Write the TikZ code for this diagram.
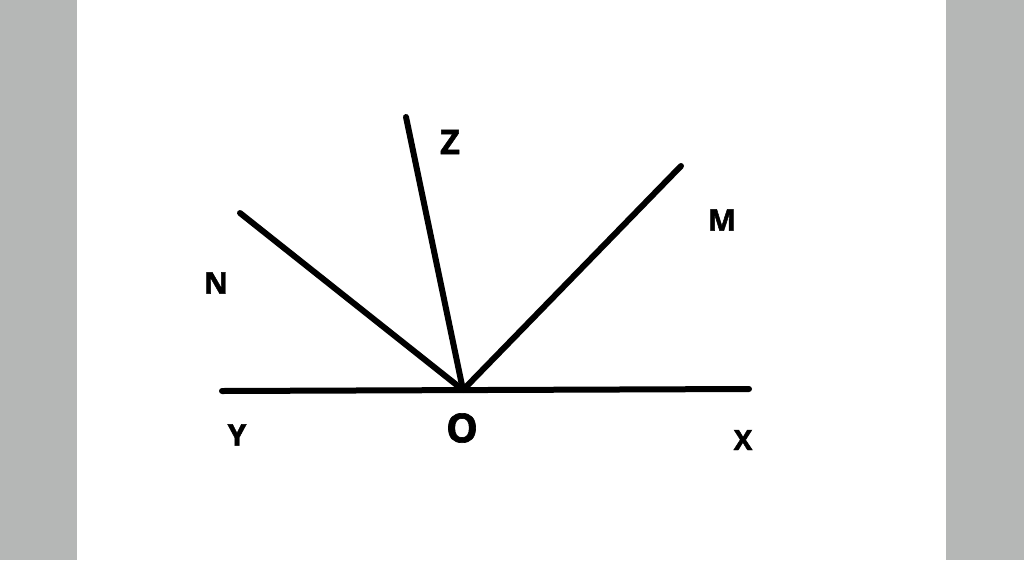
\documentclass[tikz,border=0pt]{standalone}
\usepackage{fontspec}
\setmainfont{Open Sans}[BoldFeatures={FakeBold=1.6}]
\definecolor{bandgray}{RGB}{181,183,182}
\begin{document}
\begin{tikzpicture}[x=1pt,y=-1pt,
  ray/.style={line width=6pt,line cap=round},
  lab/.style={font=\bfseries\fontsize{30}{32}\selectfont,inner sep=0pt}]
\useasboundingbox (0,0) rectangle (1024,560);
\fill[bandgray] (0,0) rectangle (77,560);
\fill[bandgray] (946,0) rectangle (1024,560);
\coordinate (O) at (463,390);
\coordinate (Yend) at (222,391);
\coordinate (Xend) at (749,389);
\coordinate (Nend) at (240,213);
\coordinate (Zend) at (406,117);
\coordinate (Mend) at (681,166);
\draw[ray] (Yend) -- (Xend);
\draw[ray] (Nend) -- (O);
\draw[ray] (Zend) -- (O);
\draw[ray] (Mend) -- (O);
\node[lab,font=\bfseries\fontsize{34}{36}\selectfont] (Z) at (450,142) {Z};
\node[lab] (M) at (722,220) {M};
\node[lab] (N) at (216,283) {N};
\node[lab] (Y) at (237,435) {Y};
\node[lab,font=\bfseries\fontsize{40}{42}\selectfont] (Olab) at (462,428) {O};
\node[lab,font=\bfseries\fontsize{28}{30}\selectfont] (X) at (743,440) {X};
\end{tikzpicture}
\end{document}
